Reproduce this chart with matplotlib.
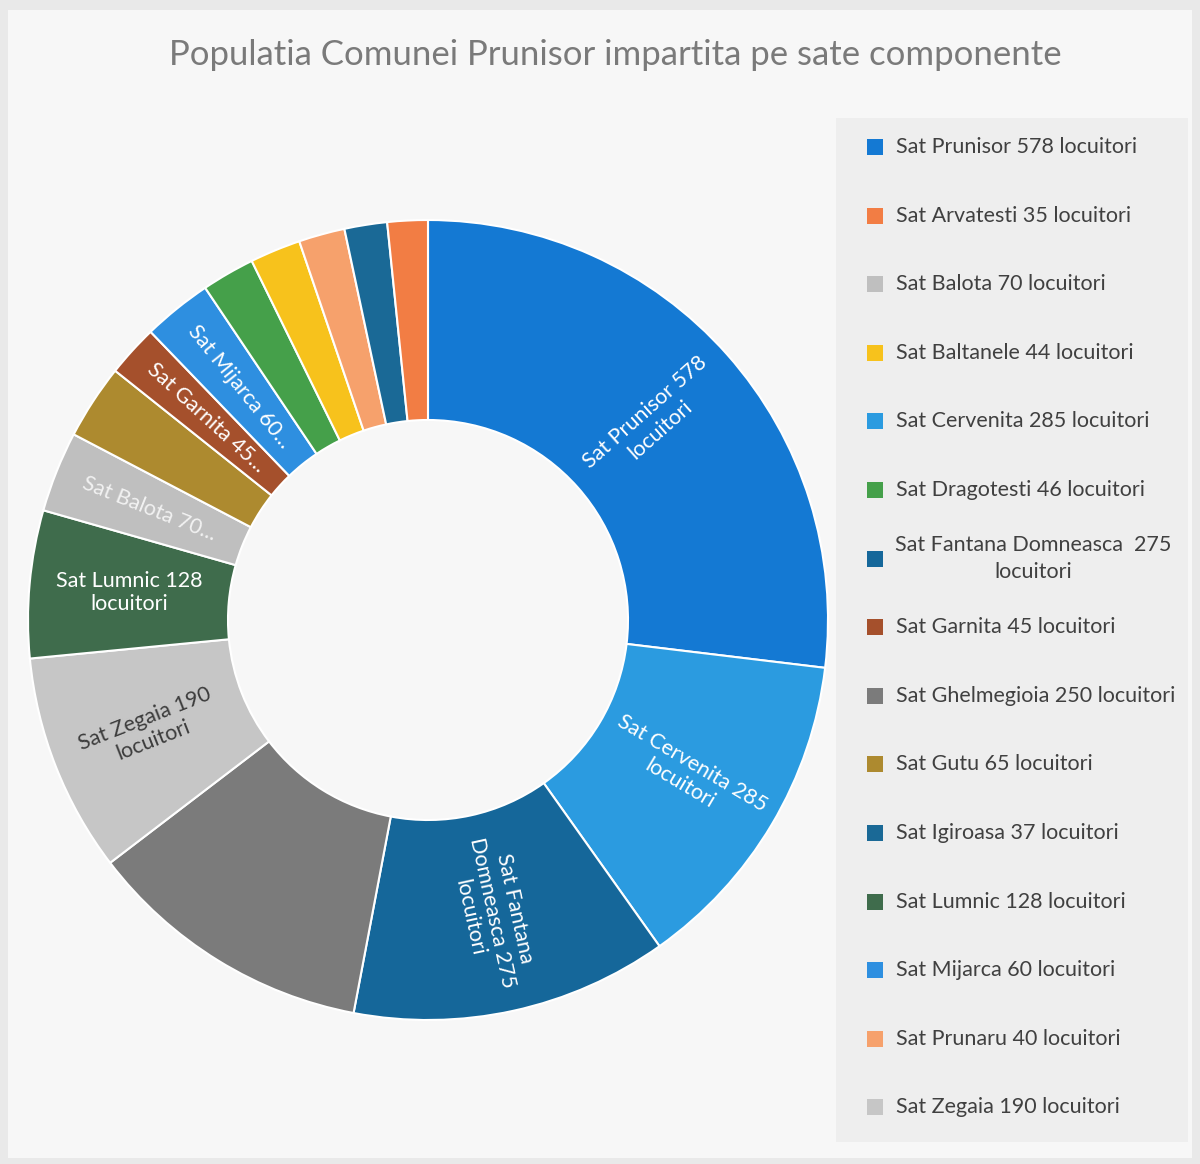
import numpy as np
import matplotlib
matplotlib.use("Agg")
import matplotlib.pyplot as plt
from matplotlib.patches import Rectangle

plt.rcParams['font.family'] = ['Lato', 'DejaVu Sans']

# slices in the order they are drawn (clockwise from the top)
villages = ["Prunisor", "Cervenita", "Fantana Domneasca", "Ghelmegioia", "Zegaia",
            "Lumnic", "Balota", "Gutu", "Garnita", "Mijarca", "Dragotesti",
            "Baltanele", "Prunaru", "Igiroasa", "Arvatesti"]
people = [578, 285, 275, 250, 190, 128, 70, 65, 45, 60, 46, 44, 40, 37, 35]
colors = ["#1479d3", "#2b9be0", "#15679a", "#7b7b7b", "#c6c6c6",
          "#3f6c4c", "#bfbfbf", "#ad8a2f", "#a5502c", "#2e8fe0", "#45a04a",
          "#f7c21c", "#f6a16c", "#1a6996", "#f27d44"]
# labels inside the ring ("" = no label)
inner_labels = ["Sat Prunisor 578\nlocuitori", "Sat Cervenita 285\nlocuitori",
                "Sat Fantana\nDomneasca 275\nlocuitori", "", "Sat Zegaia 190\nlocuitori",
                "Sat Lumnic 128\nlocuitori", "Sat Balota 70...", "", "Sat Garnita 45...",
                "Sat Mijarca 60...", "", "", "", "", ""]
label_colors = ["white", "white", "white", "white", "#3c3c3c",
                "white", "#f2f2f2", "white", "white", "white", "white",
                "white", "white", "white", "white"]

# legend order (alphabetical, as in Excel)
legend_names = ["Sat Prunisor 578 locuitori", "Sat Arvatesti 35 locuitori",
                "Sat Balota 70 locuitori", "Sat Baltanele 44 locuitori",
                "Sat Cervenita 285 locuitori", "Sat Dragotesti 46 locuitori",
                "Sat Fantana Domneasca  275\nlocuitori", "Sat Garnita 45 locuitori",
                "Sat Ghelmegioia 250 locuitori", "Sat Gutu 65 locuitori",
                "Sat Igiroasa 37 locuitori", "Sat Lumnic 128 locuitori",
                "Sat Mijarca 60 locuitori", "Sat Prunaru 40 locuitori",
                "Sat Zegaia 190 locuitori"]
legend_keys = ["Prunisor", "Arvatesti", "Balota", "Baltanele", "Cervenita",
               "Dragotesti", "Fantana Domneasca", "Garnita", "Ghelmegioia", "Gutu",
               "Igiroasa", "Lumnic", "Mijarca", "Prunaru", "Zegaia"]

W, H = 1200, 1164
fig = plt.figure(figsize=(W / 100, H / 100), dpi=100, facecolor="#e9e9e9")

# chart area and legend panel backgrounds (kept behind the axes)
fig.patches.append(Rectangle((8 / W, 1 - 1158 / H), 1184 / W, 1148 / H,
                             transform=fig.transFigure, facecolor="#f7f7f7",
                             edgecolor="none", zorder=-5))
fig.patches.append(Rectangle((836 / W, 1 - 1142 / H), 352 / W, 1024 / H,
                             transform=fig.transFigure, facecolor="#eeeeee",
                             edgecolor="none", zorder=-4))

fig.text(615 / W, 1 - 55 / H, "Populatia Comunei Prunisor impartita pe sate componente",
         ha="center", va="center", fontsize=25, color="#7a7a7a")

ax = fig.add_axes([28 / W, 1 - 1020 / H, 800 / W, 800 / H])
ax.set_zorder(2)
wedges, _ = ax.pie(people, colors=colors, startangle=90, counterclock=False,
                   radius=1, wedgeprops=dict(width=0.5, edgecolor="white", linewidth=1.5))
ax.set_xlim(-1, 1)
ax.set_ylim(-1, 1)
ax.set_aspect("equal")
ax.axis("off")

for w, txt, tc in zip(wedges, inner_labels, label_colors):
    if not txt:
        continue
    mid = (w.theta1 + w.theta2) / 2
    mid = (mid + 180) % 360 - 180
    r = 0.75
    x, y = r * np.cos(np.radians(mid)), r * np.sin(np.radians(mid))
    rot = mid
    if rot > 90:
        rot -= 180
    elif rot < -90:
        rot += 180
    if abs(rot) < 8:
        rot = 0
    ax.text(x, y, txt, ha="center", va="center", rotation=rot,
            rotation_mode="anchor", multialignment="center",
            fontsize=15.5, color=tc)

# legend drawn by hand so every row keeps the same spacing
color_of = dict(zip(villages, colors))
for i, (name, key) in enumerate(zip(legend_names, legend_keys)):
    yc = 147 + i * 68.6
    fig.patches.append(Rectangle((867 / W, 1 - (yc + 8) / H), 16 / W, 16 / H,
                                 transform=fig.transFigure,
                                 facecolor=color_of[key], edgecolor="none"))
    if "\n" in name:
        fig.text(1033 / W, 1 - yc / H, name, ha="center", va="center",
                 multialignment="center", fontsize=15.5, color="#404040",
                 linespacing=1.4)
    else:
        fig.text(896 / W, 1 - yc / H, name, ha="left", va="center",
                 fontsize=15.5, color="#404040")

fig.savefig("out.png", dpi=100, facecolor=fig.get_facecolor())
